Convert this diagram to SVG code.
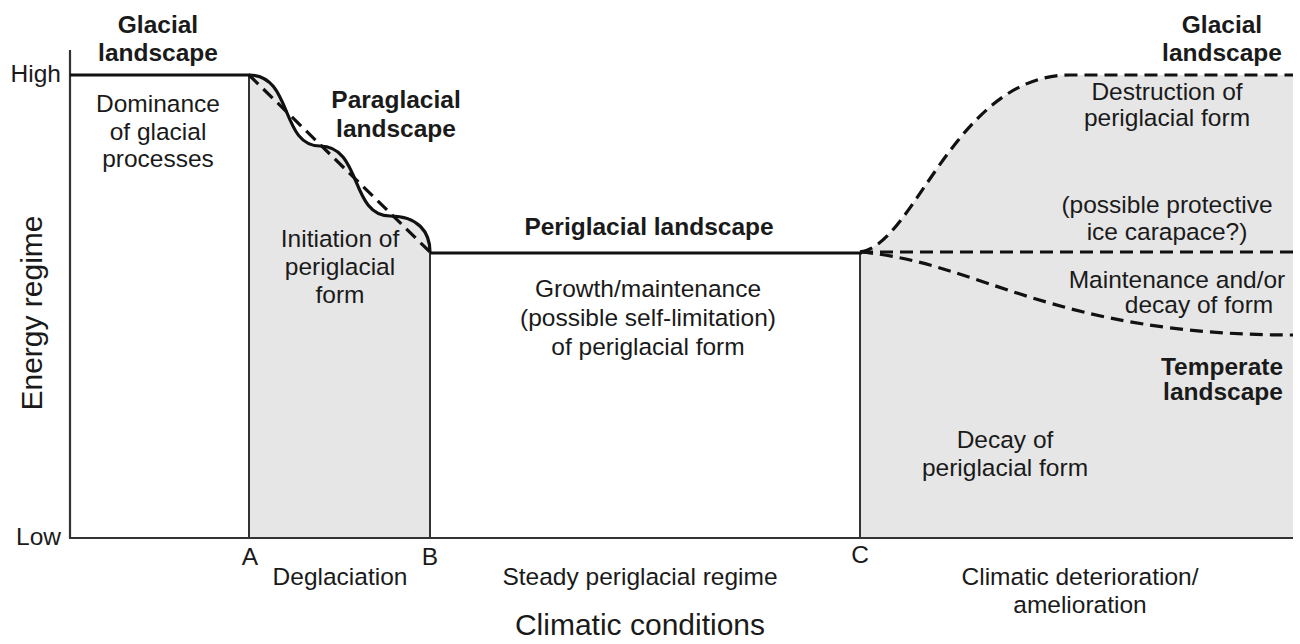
<svg xmlns="http://www.w3.org/2000/svg" width="1300" height="644" viewBox="0 0 1300 644">
<style>
  text { font-family: "Liberation Sans", Arial, sans-serif; fill: #1a1a1a; }
  .t { font-size: 24.5px; text-anchor: middle; }
  .b { font-size: 24.5px; font-weight: bold; text-anchor: middle; }
  .ax { font-size: 30px; text-anchor: middle; }
  .tick { font-size: 24.5px; }
  .shade { fill: #e6e6e6; stroke: none; }
  .axis { fill: none; stroke: #333; stroke-width: 2.2; }
  .vline { fill: none; stroke: #333; stroke-width: 2; }
  .solid { fill: none; stroke: #111; stroke-width: 3.2; }
  .dash { fill: none; stroke: #111; stroke-width: 3.2; stroke-dasharray: 13 7; }
</style>
<rect width="1300" height="644" fill="#ffffff"/>

<g id="shading">
  <path class="shade" d="M249,75 C293,75 280,146 320,146 C362,146 350,216 390,216 C418,216 430,232 430,252 L430,537 L249,537 Z"/>
  <path class="shade" d="M860,252 C915,245 955,75 1070,75 L1293,75 L1293,537 L860,537 Z"/>
</g>

<g id="connectors">
  <path class="axis" d="M70,50 V538 H1293"/>
  <path class="vline" d="M249,75 V537"/>
  <path class="vline" d="M430,252 V537"/>
  <path class="vline" d="M860,252 V537"/>
  <path class="solid" d="M70,75 H250"/>
  <path class="solid" d="M249,75 C293,75 280,146 320,146 C362,146 350,216 390,216 C418,216 430,232 430,252"/>
  <path class="dash" d="M249,75 L430,252"/>
  <path class="solid" d="M430,253 H862"/>
  <path class="dash" d="M860,252 C915,245 955,75 1070,75 L1293,75"/>
  <path class="dash" d="M860,252 H1293"/>
  <path class="dash" d="M860,252 C980,262 1050,335 1293,335"/>
</g>

<g id="axis-labels">
  <text class="tick" x="61" y="82" text-anchor="end">High</text>
  <text class="tick" x="61" y="545" text-anchor="end">Low</text>
  <text class="ax" transform="translate(42,313) rotate(-90)">Energy regime</text>
  <text class="ax" x="640" y="635">Climatic conditions</text>
  <text class="tick" x="250" y="565" text-anchor="middle">A</text>
  <text class="tick" x="430" y="565" text-anchor="middle">B</text>
  <text class="tick" x="860" y="563" text-anchor="middle">C</text>
  <text class="t" x="340" y="585">Deglaciation</text>
  <text class="t" x="640" y="585">Steady periglacial regime</text>
  <text class="t" x="1080" y="585">Climatic deterioration/</text>
  <text class="t" x="1080" y="613">amelioration</text>
</g>

<g id="glacial-left">
  <text class="b" x="158" y="33">Glacial</text>
  <text class="b" x="158" y="61">landscape</text>
  <text class="t" x="158" y="112">Dominance</text>
  <text class="t" x="158" y="140">of glacial</text>
  <text class="t" x="158" y="167">processes</text>
</g>

<g id="paraglacial">
  <text class="b" x="396" y="108">Paraglacial</text>
  <text class="b" x="396" y="137">landscape</text>
  <text class="t" x="340" y="247">Initiation of</text>
  <text class="t" x="340" y="275">periglacial</text>
  <text class="t" x="340" y="303">form</text>
</g>

<g id="periglacial">
  <text class="b" x="649" y="235">Periglacial landscape</text>
  <text class="t" x="648" y="297">Growth/maintenance</text>
  <text class="t" x="648" y="326">(possible self-limitation)</text>
  <text class="t" x="648" y="355">of periglacial form</text>
</g>

<g id="glacial-right">
  <text class="b" x="1222" y="33">Glacial</text>
  <text class="b" x="1222" y="61">landscape</text>
  <text class="t" x="1167" y="100">Destruction of</text>
  <text class="t" x="1167" y="126">periglacial form</text>
  <text class="t" x="1167" y="213">(possible protective</text>
  <text class="t" x="1167" y="240">ice carapace?)</text>
</g>

<g id="maintenance">
  <text class="t" x="1177" y="288">Maintenance and/or</text>
  <text class="t" x="1199" y="313">decay of form</text>
</g>

<g id="temperate">
  <text class="b" x="1222" y="375">Temperate</text>
  <text class="b" x="1223" y="400">landscape</text>
  <text class="t" x="1005" y="448">Decay of</text>
  <text class="t" x="1005" y="476">periglacial form</text>
</g>
</svg>
